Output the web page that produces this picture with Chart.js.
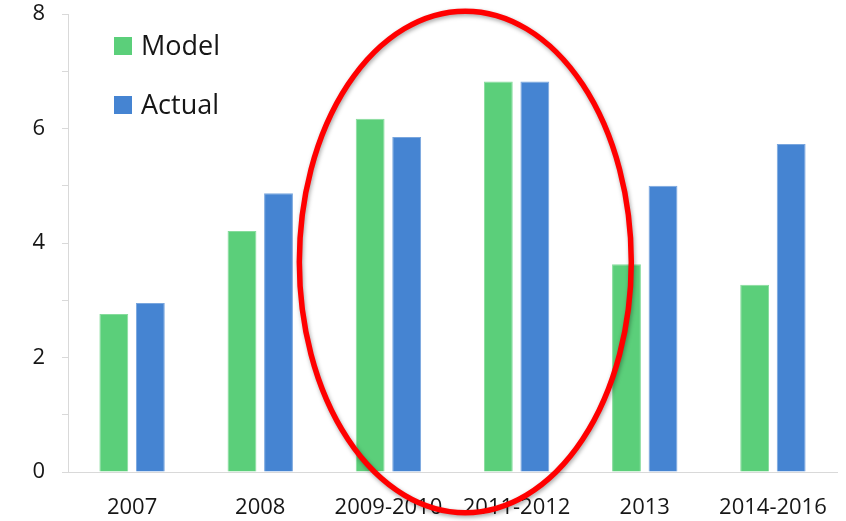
<!DOCTYPE html>
<html>
<head>
<meta charset="utf-8">
<script src="https://cdn.jsdelivr.net/npm/chart.js@4.4.1/dist/chart.umd.min.js"></script>
<style>
  html, body { margin: 0; padding: 0; background: #ffffff; }
  #wrap { width: 846px; height: 521px; position: relative; }
</style>
</head>
<body>
<div id="wrap"><canvas id="chart"></canvas></div>
<script>
// Periods on the horizontal axis
const categories = ['2007', '2008', '2009-2010', '2011-2012', '2013', '2014-2016'];
// Series values
const modelValues  = [2.76, 4.21, 6.17, 6.82, 3.63, 3.27];
const actualValues = [2.95, 4.87, 5.85, 6.82, 5.00, 5.73];
const seriesNames  = ['Model', 'Actual'];
// Labelled ticks on the vertical axis
const yTickLabels  = [0, 2, 4, 6, 8];

const FONT = '"Open Sans", "Noto Sans", sans-serif';
const GREEN = '#5BCF7A';
const BLUE = '#4584D2';
const AXIS = '#d9d9d9';
const TEXT = '#161616';

// Legend drawn inside the plot area, top left
const insideLegend = {
  id: 'insideLegend',
  afterDraw(chart) {
    const ctx = chart.ctx;
    const area = chart.chartArea;
    ctx.save();
    ctx.font = '27px ' + FONT;
    ctx.textBaseline = 'middle';
    ctx.textAlign = 'left';
    chart.data.datasets.forEach((ds, i) => {
      const x = area.left + 46;
      const y = area.top + 32 + i * 59;
      ctx.fillStyle = ds.backgroundColor;
      ctx.fillRect(x, y - 9, 18, 18);
      ctx.fillStyle = TEXT;
      ctx.fillText(ds.label, x + 27, y + 1);
    });
    ctx.restore();
  }
};

// Red ellipse highlighting the 2009-2012 periods
const highlightRing = {
  id: 'highlightRing',
  afterDraw(chart) {
    const xs = chart.scales.x, ys = chart.scales.y;
    const cx = xs.getPixelForValue(2.6);
    const cy = ys.getPixelForValue(3.67);
    const rx = (xs.getPixelForValue(1) - xs.getPixelForValue(0)) * 1.295;
    const ry = (ys.getPixelForValue(0) - ys.getPixelForValue(1)) * 4.38;
    const ctx = chart.ctx;
    ctx.save();
    ctx.shadowColor = 'rgba(0,0,0,0.35)';
    ctx.shadowBlur = 4;
    ctx.shadowOffsetX = 1;
    ctx.shadowOffsetY = 2;
    ctx.strokeStyle = '#ff0000';
    ctx.lineWidth = 5.5;
    ctx.beginPath();
    ctx.ellipse(cx, cy, rx, ry, 0, 0, Math.PI * 2);
    ctx.stroke();
    ctx.restore();
  }
};

new Chart(document.getElementById('chart'), {
  type: 'bar',
  data: {
    labels: categories,
    datasets: [
      { label: seriesNames[0], data: modelValues, backgroundColor: GREEN,
        borderColor: '#86dc9c', borderWidth: 1 },
      { label: seriesNames[1], data: actualValues, backgroundColor: BLUE,
        borderColor: '#79a6de', borderWidth: 1 }
    ]
  },
  options: {
    responsive: true,
    maintainAspectRatio: false,
    animation: false,
    devicePixelRatio: 1,
    layout: { padding: { left: 0, right: 9, top: 14, bottom: 0 } },
    datasets: { bar: { categoryPercentage: 0.57, barPercentage: 0.79 } },
    plugins: {
      legend: { display: false },
      tooltip: { enabled: false }
    },
    scales: {
      x: {
        grid: { display: true, drawOnChartArea: false, drawTicks: false },
        border: { display: true, color: AXIS, width: 1 },
        ticks: { font: { family: FONT, size: 22 }, color: TEXT, padding: 23, maxRotation: 0, autoSkip: false },
        afterFit(scale) {
          scale.height = 49;
          scale.paddingLeft = 0;
          scale.paddingRight = 0;
        }
      },
      y: {
        min: 0,
        max: 8,
        grid: { display: true, drawOnChartArea: false, drawTicks: true, tickLength: 6, color: AXIS },
        border: { display: true, color: AXIS, width: 1 },
        ticks: {
          stepSize: 1,
          font: { family: FONT, size: 22 },
          color: TEXT,
          padding: 17,
          callback: (v) => yTickLabels.includes(v) ? String(v) : ''
        },
        afterFit(scale) {
          scale.width = 68;
          scale.paddingTop = 0;
          scale.paddingBottom = 0;
        }
      }
    }
  },
  plugins: [insideLegend, highlightRing]
});
</script>
</body>
</html>
